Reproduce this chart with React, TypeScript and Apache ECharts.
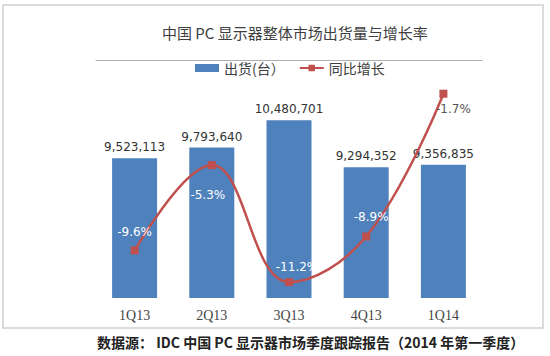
import React, { useEffect, useRef } from "react";
import * as echarts from "echarts";

const categories = ["1Q13", "2Q13", "3Q13", "4Q13", "1Q14"];
const shipments = [9523113, 9793640, 10480701, 9294352, 9356835];
const growth = [-9.6, -5.3, -11.2, -8.9, -1.7];
const titleText = "中国 PC 显示器整体市场出货量与增长率";
const footerText = "数据源： IDC 中国 PC 显示器市场季度跟踪报告（2014 年第一季度）";
const barName = "出货(台）";
const lineName = "同比增长";

const labelCfg: any[] = [
  { position: "top", distance: 8, offset: [0, 0], color: "#ffffff" },
  { position: "bottom", distance: 20, offset: [-4, 0], color: "#ffffff" },
  { position: "top", distance: 5, offset: [8, 0], color: "#ffffff" },
  { position: "top", distance: 10, offset: [5, 0], color: "#ffffff" },
  { position: "bottom", distance: 5, offset: [10, 0], color: "#555555" },
];

export default function App() {
  const ref = useRef<HTMLDivElement>(null);
  useEffect(() => {
    if (!ref.current) return;
    const chart = echarts.init(ref.current, undefined, { renderer: "svg" });
    chart.setOption({
      animation: false,
      backgroundColor: "#ffffff",
      title: [
        {
          text: titleText,
          left: 157,
          top: 20,
          textStyle: { fontFamily: "Noto Sans CJK SC", fontSize: 15, fontWeight: "normal", color: "#404040" },
        },
        {
          text: footerText,
          left: 97,
          top: 333,
          padding: 0,
          textStyle: { fontFamily: "Noto Sans CJK SC", fontSize: 14, fontWeight: "bold", color: "#222", lineHeight: 18 },
        },
      ],
      legend: {
        left: 190,
        top: 56,
        itemWidth: 24,
        itemHeight: 8,
        itemGap: 14,
        textStyle: { fontFamily: "Noto Sans CJK SC", fontSize: 14, color: "#404040" },
        data: [
          { name: barName, icon: "rect" },
          { name: lineName },
        ],
      },
      graphic: [
        {
          type: "rect",
          shape: { x: 3, y: 5, width: 540, height: 323 },
          style: { fill: "none", stroke: "#d0d0d0", lineWidth: 1.5 },
          silent: true,
          z: -1,
        },
      ],
      grid: { left: 96, right: 68, top: 60, bottom: 58 },
      xAxis: {
        type: "category",
        data: categories,
        axisLine: { lineStyle: { color: "#b0b0b0" } },
        axisTick: { inside: true, length: 4, lineStyle: { color: "#b0b0b0" } },
        axisLabel: { fontFamily: "Liberation Serif", fontSize: 14, color: "#444", margin: 10 },
      },
      yAxis: [
        { type: "value", min: 6000000, max: 12000000, show: false, splitLine: { show: false } },
        { type: "value", min: -12, max: 0, show: false, splitLine: { show: false } },
      ],
      series: [
        {
          name: barName,
          type: "bar",
          data: shipments,
          barWidth: 45,
          itemStyle: { color: "#4f81bd" },
          label: {
            show: true,
            position: "top",
            distance: 5,
            fontFamily: "DejaVu Sans",
            fontSize: 12,
            color: "#333",
            formatter: (p: any) => Number(p.value).toLocaleString("en-US"),
          },
        },
        {
          name: lineName,
          type: "line",
          yAxisIndex: 1,
          smooth: 0.4,
          symbol: "rect",
          symbolSize: 8,
          data: growth.map((v, i) => ({
            value: v,
            label: {
              show: true,
              position: labelCfg[i].position,
              distance: labelCfg[i].distance,
              offset: labelCfg[i].offset,
              color: labelCfg[i].color,
            },
          })),
          lineStyle: { color: "#c0504d", width: 2.5 },
          itemStyle: { color: "#c0504d" },
          label: {
            show: true,
            fontFamily: "DejaVu Sans",
            fontSize: 12,
            formatter: (p: any) => `${Number(p.value).toFixed(1)}%`,
          },
        },
      ],
    });
    return () => chart.dispose();
  }, []);
  return (
    <div
      ref={ref}
      style={{ position: "absolute", left: 0, top: 0, width: 550, height: 356 }}
    />
  );
}
